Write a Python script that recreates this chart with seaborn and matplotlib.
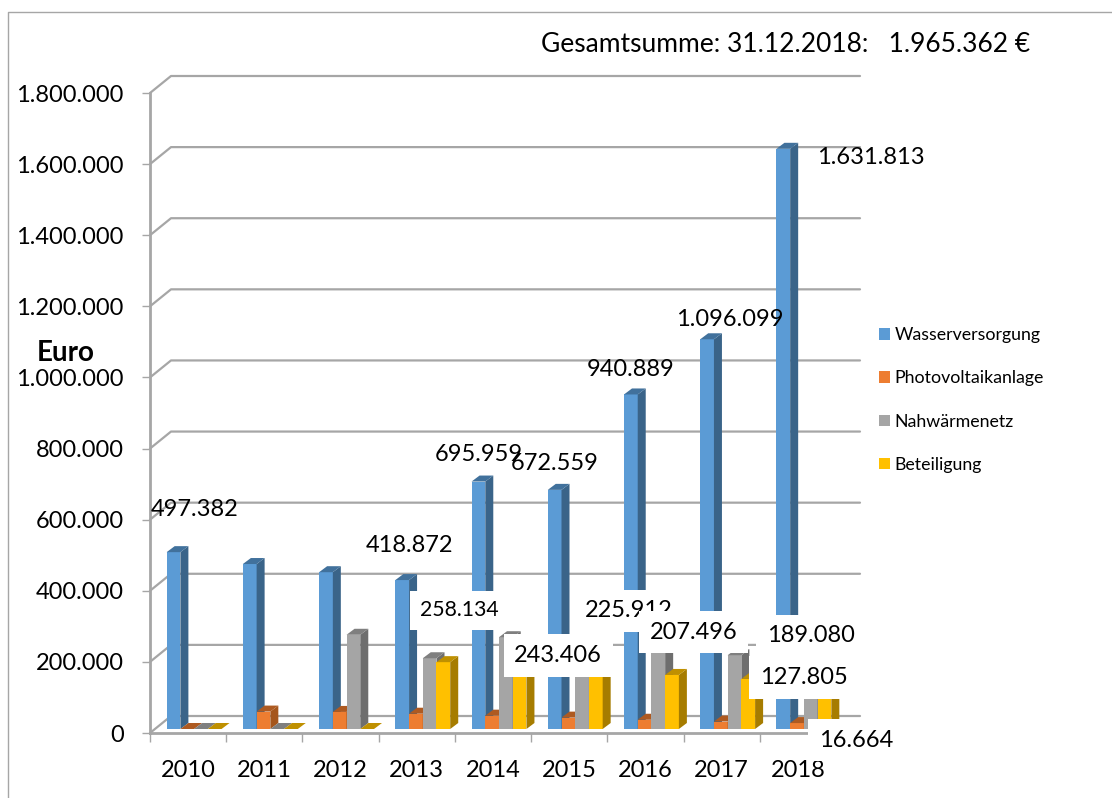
# Import necessary libraries
import pandas as pd
import matplotlib
matplotlib.use('Agg')
import matplotlib.pyplot as plt
import seaborn as sns
from matplotlib.lines import Line2D
from matplotlib.patches import Polygon
from matplotlib.ticker import FuncFormatter
from matplotlib.transforms import Affine2D, IdentityTransform

# Values (some yellow bars are hidden behind label boxes)
years = [2010, 2011, 2012, 2013, 2014, 2015, 2016, 2017, 2018]
wasserversorgung = [497382, 464000, 441000, 418872, 695959, 672559, 940889, 1096099, 1631813]
photovoltaikanlage = [0, 49000, 48000, 43000, 37500, 32000, 26000, 21000, 16664]
nahwaermenetz = [0, 0, 265000, 199000, 258134, 243406, 225912, 207496, 189080]
beteiligung = [0, 0, 0, 188000, 176000, 164000, 152000, 141000, 127805]
series_names = ['Wasserversorgung', 'Photovoltaikanlage', 'Nahwärmenetz', 'Beteiligung']
y_ticks = [0, 200000, 400000, 600000, 800000, 1000000, 1200000, 1400000, 1600000, 1800000]

# Colours per series: front, side and top of the fake 3D bars
FRONT = ['#5b9bd5', '#ed7d31', '#a5a5a5', '#ffc000']
SIDE = ['#3a6489', '#a5561c', '#6e6e6e', '#a67c00']
TOP = ['#41719c', '#ae5a21', '#7f7f7f', '#bf9000']
GRID = '#a6a6a6'

W, H = 1112, 798
FONT = 'Lato'


def german(v):
    return f"{int(v):,}".replace(',', '.')


df = pd.DataFrame({'year': years,
                   series_names[0]: wasserversorgung,
                   series_names[1]: photovoltaikanlage,
                   series_names[2]: nahwaermenetz,
                   series_names[3]: beteiligung})
long_df = df.melt(id_vars='year', var_name='series', value_name='euro')

sns.set_style('white')
plt.rcParams['font.family'] = [FONT, 'DejaVu Sans']
plt.rcParams['text.color'] = 'black'

fig = plt.figure(figsize=(W / 100, H / 100), dpi=100)
# axes box in pixels: x 150..836, y 93..733
ax = fig.add_axes([150 / W, 1 - 733 / H, 686 / W, 640 / H])

sns.barplot(data=long_df, x='year', y='euro', hue='series', hue_order=series_names,
            palette=FRONT, width=0.72, gap=0, saturation=1, linewidth=0, legend=True, ax=ax, zorder=3)
ax.set_xlim(-0.5, 8.5)
ax.set_ylim(0, 1800000)
ax.set_yticks(y_ticks)
ax.yaxis.set_major_formatter(FuncFormatter(lambda v, pos: german(v)))
ax.set_xlabel('')
ax.set_ylabel('')
ax.tick_params(axis='both', labelsize=17, labelcolor='black')
ax.tick_params(axis='y', length=5.5, width=1, color=GRID, left=True, pad=13.5)
ax.tick_params(axis='x', which='major', length=0, pad=19.5)
ax.set_xticks([i - 0.5 for i in range(10)], minor=True)
ax.tick_params(axis='x', which='minor', length=6.5, width=1, color=GRID, bottom=True)
sns.despine(ax=ax)
for side in ['left', 'bottom']:
    ax.spines[side].set_color(GRID)
    ax.spines[side].set_linewidth(2)

fig.canvas.draw()
to_px = ax.transData

# Back wall: one gridline per tick, with the short diagonal to the front axis
DEPTH_X, DEPTH_Y = 21, 17
for tick in y_ticks:
    x0, y0 = to_px.transform((-0.5, tick))
    x1, _ = to_px.transform((8.5, tick))
    ax.add_line(Line2D([x0, x0 + DEPTH_X, x1 + DEPTH_X + 3],
                       [y0, y0 + DEPTH_Y, y0 + DEPTH_Y],
                       color=GRID, lw=1.6, transform=IdentityTransform(), zorder=1, clip_on=False))

# The bars stand a bit behind the front axis, then get side and top faces
SHIFT_X, SHIFT_Y = 6, 4
BAR_DX, BAR_DY = 8, 6
shift = Affine2D().translate(SHIFT_X, SHIFT_Y)
bars_px = {}
for s, container in enumerate(ax.containers):
    for g, bar in enumerate(container):
        bar.set_transform(to_px + shift)
        bar.set_zorder(3 + s * 0.1)
        bar.set_clip_on(False)
        (x0, y0), (x1, y1) = (to_px + shift).transform(
            [(bar.get_x(), 0), (bar.get_x() + bar.get_width(), bar.get_height())])
        bars_px[(s, g)] = ((x0 + x1) / 2, y1)
        ax.add_patch(Polygon([(x1, y0), (x1 + BAR_DX, y0 + BAR_DY), (x1 + BAR_DX, y1 + BAR_DY), (x1, y1)],
                             fc=SIDE[s], ec='none', transform=IdentityTransform(),
                             zorder=3 + s * 0.1, clip_on=False))
        ax.add_patch(Polygon([(x0, y1), (x0 + BAR_DX, y1 + BAR_DY), (x1 + BAR_DX, y1 + BAR_DY), (x1, y1)],
                             fc=TOP[s], ec='none', transform=IdentityTransform(),
                             zorder=3 + s * 0.1, clip_on=False))

# Data labels: (series, year, pixel offset from bar top, white box, font size)
labels = [
    (0, 2010, 21, 43, False, 17),
    (0, 2013, 7, 35, False, 17),
    (0, 2014, 0, 27, False, 17),
    (0, 2015, 0, 26, False, 17),
    (0, 2016, 0, 25, False, 17),
    (0, 2017, 23, 20, False, 17),
    (0, 2018, 88, -9, False, 17),
    (2, 2014, -47, 27, True, 15.3),
    (2, 2015, -24, -13, True, 17),
    (2, 2016, -30, 38, True, 17),
    (2, 2017, -41, 23, True, 17),
    (2, 2018, 0, 26, True, 17),
    (3, 2018, -21, 6, True, 17),
    (1, 2018, 59, -17, True, 17),
]
columns = [wasserversorgung, photovoltaikanlage, nahwaermenetz, beteiligung]
for n, (s, year, dx, dy, boxed, size) in enumerate(labels):
    g = years.index(year)
    px, py = bars_px[(s, g)]
    box = dict(boxstyle='square,pad=0.45', fc='white', ec='none') if boxed else None
    ax.annotate(german(columns[s][g]), xy=(px, py), xycoords='figure pixels',
                xytext=(dx, dy), textcoords='offset pixels', ha='center', va='center',
                fontsize=size, bbox=box, zorder=10 + n * 0.1, annotation_clip=False)

# Legend on the right with small square handles
handles, names = ax.get_legend_handles_labels()
ax.legend(handles, names, loc='center left', bbox_to_anchor=(879 / W, 1 - 400 / H),
          bbox_transform=fig.transFigure, frameon=False, fontsize=12.8, handlelength=0.62,
          handleheight=0.62, handletextpad=0.24, labelspacing=1.53, borderpad=0, borderaxespad=0)

# Header text, axis title and the chart border
fig.text(541 / W, 1 - 44 / H, 'Gesamtsumme: 31.12.2018:   1.965.362 €', fontsize=19, va='center', ha='left')
fig.text(66 / W, 1 - 353 / H, 'Euro', fontsize=20, fontweight='bold', va='center', ha='center')
fig.add_artist(Line2D([8 / W, 8 / W, 1], [0, 1 - 12 / H, 1 - 12 / H], color=GRID, lw=1,
                      transform=fig.transFigure))

fig.savefig('out.png', dpi=100)
